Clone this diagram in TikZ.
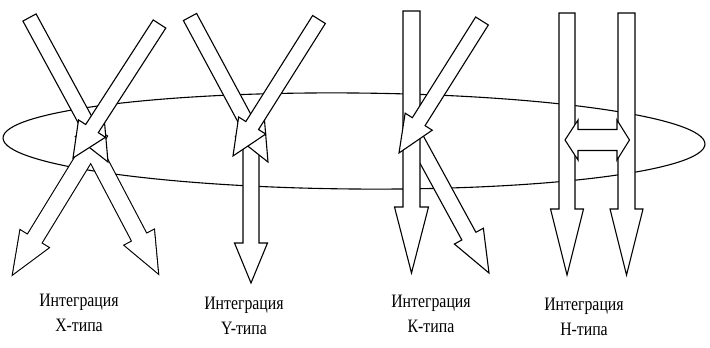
\documentclass[tikz,border=0pt]{standalone}
\usepackage{fontspec}
\setmainfont{Liberation Serif}
\usetikzlibrary{calc}
\tikzset{
  blk/.style={draw=black, fill=white, line width=1.1pt, line join=miter},
  ring/.style={draw=black, line width=1.1pt},
  lbl/.style={font=\fontsize{15.8}{19}\selectfont, inner sep=0pt, anchor=base}
}
\newcommand\arrcoords[6]{%
  \coordinate (#6t) at (#1);
  \coordinate (#6p) at (#2);
  \coordinate (#6b) at ($(#6p)!#5!(#6t)$);
  \coordinate (#61) at ($(#6t)!#3!90:(#6p)$);
  \coordinate (#62) at ($(#6b)!#3!90:(#6p)$);
  \coordinate (#63) at ($(#6b)!#4!90:(#6p)$);
  \coordinate (#64) at (#6p);
  \coordinate (#65) at ($(#6b)!#4!-90:(#6p)$);
  \coordinate (#66) at ($(#6b)!#3!-90:(#6p)$);
  \coordinate (#67) at ($(#6t)!#3!-90:(#6p)$);}
\newcommand\arrshape[1]{(#11) -- (#12) -- (#13) -- (#14) -- (#15) -- (#16) -- (#17) -- cycle}
\newcommand\blockarr[6]{\arrcoords{#1}{#2}{#3}{#4}{#5}{#6}\draw[blk] \arrshape{#6};}
\newcommand\lbltext[1]{\scalebox{1}[1.2]{#1}}
\begin{document}
\begin{tikzpicture}[x=1pt,y=-1pt]
\useasboundingbox (0,0) rectangle (710,348);
% ring
\draw[ring] (354,141) ellipse [x radius=351, y radius=48, rotate=-0.5];
% X-type
\arrcoords{100,132}{13,274}{8pt}{16.5pt}{41pt}{xdl}
\arrcoords{88,140}{158,273}{8pt}{16.5pt}{40pt}{xdr}
\draw[line width=2.2pt] \arrshape{xdl};
\draw[line width=2.2pt] \arrshape{xdr};
\fill[white] \arrshape{xdl};
\fill[white] \arrshape{xdr};
\blockarr{29.5,17.5}{108,162}{7.5pt}{16.5pt}{38pt}{xtl}
\blockarr{159.5,24}{73,158}{7.5pt}{16pt}{35pt}{xtr}
% Y-type
\blockarr{251,140}{251,283}{8pt}{16.5pt}{40pt}{yd}
\blockarr{190,17}{268,162}{7.5pt}{16.5pt}{38pt}{ytl}
\blockarr{319,19.5}{233,156}{7.5pt}{16pt}{36pt}{ytr}
% K-type
\blockarr{411.5,131}{489,273}{8pt}{16.5pt}{42pt}{kdr}
\blockarr{411.5,11}{411.5,273}{8.5pt}{17pt}{66pt}{kv}
\blockarr{482,21}{399,153}{7.5pt}{16pt}{37pt}{ktr}
% H-type
\blockarr{567,13}{567,275}{8pt}{16.5pt}{66pt}{hl}
\blockarr{626.5,13}{626.5,275}{8.5pt}{16.5pt}{66pt}{hr}
\coordinate (hdl) at (565,140);
\coordinate (hdr) at (629.5,140);
\draw[blk] (hdl) -- (578,120) -- (578,129.5) -- (617,129.5) -- (617,120) -- (hdr)
  -- (617,160) -- (617,150.5) -- (578,150.5) -- (578,160) -- cycle;
% labels
\node[lbl] (lx1) at (79,306) {\lbltext{Интеграция}};
\node[lbl] (lx2) at (79,331) {\lbltext{X-типа}};
\node[lbl] (ly1) at (244,309) {\lbltext{Интеграция}};
\node[lbl] (ly2) at (244,334) {\lbltext{Y-типа}};
\node[lbl] (lk1) at (431,307) {\lbltext{Интеграция}};
\node[lbl] (lk2) at (431,332) {\lbltext{К-типа}};
\node[lbl] (lh1) at (584,310) {\lbltext{Интеграция}};
\node[lbl] (lh2) at (584,335) {\lbltext{Н-типа}};
\end{tikzpicture}
\end{document}
